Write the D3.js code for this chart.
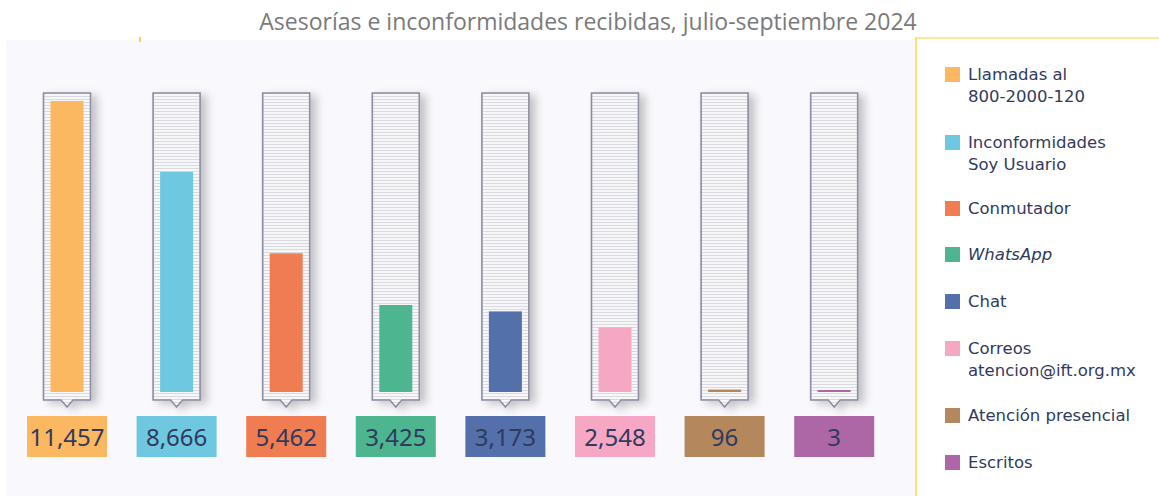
<!DOCTYPE html>
<html>
<head>
<meta charset="utf-8">
<script src="https://cdn.jsdelivr.net/npm/d3@7"></script>
<style>
  body { margin: 0; background: #fff; }
  svg { display: block; }
</style>
</head>
<body>
<svg id="svg1" width="1159" height="496"></svg>
<script>
// datos del trimestre
var categories = ["Llamadas al 800-2000-120", "Inconformidades Soy Usuario", "Conmutador", "WhatsApp", "Chat", "Correos atencion@ift.org.mx", "Atención presencial", "Escritos"];
var values = [11457, 8666, 5462, 3425, 3173, 2548, 96, 3];
var colors = ["#fbb861", "#6ec8df", "#f07c52", "#4db58f", "#5370ab", "#f5a7c4", "#b5875c", "#ad67a6"];
var legendLines = [["Llamadas al", "800-2000-120"], ["Inconformidades", "Soy Usuario"], ["Conmutador"], ["WhatsApp"], ["Chat"], ["Correos", "atencion@ift.org.mx"], ["Atención presencial"], ["Escritos"]];
var legendTops = [67, 135, 201, 247, 294, 341, 408, 455];

var svg = d3.select('#svg1');
var width = 1159, height = 496;

var defs = svg.append('defs');
var pat = defs.append('pattern')
    .attr('id', 'stripes')
    .attr('patternUnits', 'userSpaceOnUse')
    .attr('width', 6).attr('height', 3);
pat.append('rect').attr('width', 6).attr('height', 3).attr('fill', '#f7f7f9');
pat.append('rect').attr('width', 6).attr('height', 1).attr('fill', '#d9d9e0');

var shadow = defs.append('filter').attr('id', 'shadow')
    .attr('x', '-30%').attr('y', '-10%').attr('width', '180%').attr('height', '130%');
shadow.append('feDropShadow')
    .attr('dx', 6).attr('dy', 3).attr('stdDeviation', 4)
    .attr('flood-color', '#000').attr('flood-opacity', 0.22);

// fondo del area de grafica
svg.append('rect')
    .attr('x', 6).attr('y', 40).attr('width', 910).attr('height', 456)
    .attr('fill', '#f9f8fc');

// pequeña marca amarilla
svg.append('rect')
    .attr('x', 139).attr('y', 37).attr('width', 2).attr('height', 5)
    .attr('fill', '#f7d54a');

// panel de leyenda
svg.append('rect')
    .attr('x', 916).attr('y', 38).attr('width', 243).attr('height', 458)
    .attr('fill', '#fff');
svg.append('line')
    .attr('x1', 916).attr('x2', 916).attr('y1', 37).attr('y2', 496)
    .attr('stroke', '#f9e27a').attr('stroke-width', 2);
svg.append('line')
    .attr('x1', 916).attr('x2', 1159).attr('y1', 38).attr('y2', 38)
    .attr('stroke', '#f9e27a').attr('stroke-width', 1.5);

// titulo
svg.append('text')
    .attr('x', 588).attr('y', 30)
    .attr('text-anchor', 'middle')
    .style('font-family', 'Open Sans, sans-serif')
    .style('font-size', '23px')
    .style('fill', '#7a7a7a')
    .text('Asesorías e inconformidades recibidas, julio-septiembre 2024');

var x = d3.scaleBand().domain(categories).range([12.2, 889]).padding(0);
var y = d3.scaleLinear().domain([0, d3.max(values)]).range([392, 101]);

var contTop = 93, contBottom = 400, contW = 47, barW = 33;

var g = svg.selectAll('.col')
    .data(categories)
    .enter().append('g')
    .attr('class', 'col')
    .attr('transform', function(d) { return 'translate(' + (x(d) + x.bandwidth() / 2) + ',0)'; });

// contenedor con rayas y flecha
g.append('path')
    .attr('d', 'M' + (-contW / 2) + ',' + contTop +
        'H' + (contW / 2) + 'V' + contBottom +
        'H6L0,' + (contBottom + 7) + 'L-6,' + contBottom +
        'H' + (-contW / 2) + 'Z')
    .attr('fill', 'url(#stripes)')
    .attr('stroke', '#8c8ca2')
    .attr('stroke-width', 1.6)
    .attr('filter', 'url(#shadow)');

// barras
g.append('rect')
    .attr('x', -barW / 2)
    .attr('width', barW)
    .attr('y', function(d, i) { return Math.min(y(values[i]), y(0) - 2); })
    .attr('height', function(d, i) { return Math.max(y(0) - y(values[i]), 2); })
    .attr('fill', function(d, i) { return colors[i]; });

// cajas de valores
g.append('rect')
    .attr('x', -40).attr('y', 416).attr('width', 80).attr('height', 41)
    .attr('fill', function(d, i) { return colors[i]; });

g.append('text')
    .attr('y', 446)
    .attr('text-anchor', 'middle')
    .style('font-family', 'Noto Sans, sans-serif')
    .style('font-size', '24px')
    .style('fill', '#2f3a5e')
    .text(function(d, i) { return d3.format(',')(values[i]); });

// leyenda
var leg = svg.selectAll('.leg')
    .data(categories)
    .enter().append('g')
    .attr('class', 'leg')
    .attr('transform', function(d, i) { return 'translate(945,' + legendTops[i] + ')'; });

leg.append('rect')
    .attr('width', 15).attr('height', 15)
    .attr('fill', function(d, i) { return colors[i]; });

leg.each(function(d, i) {
    var t = d3.select(this).append('text')
        .style('font-family', 'DejaVu Sans, sans-serif')
        .style('font-size', '16.5px')
        .style('fill', '#2f3a5e')
        .style('font-style', d === 'WhatsApp' ? 'italic' : 'normal');
    legendLines[i].forEach(function(line, j) {
        t.append('tspan').attr('x', 23).attr('y', 13 + j * 21.5).text(line);
    });
});
</script>
</body>
</html>
